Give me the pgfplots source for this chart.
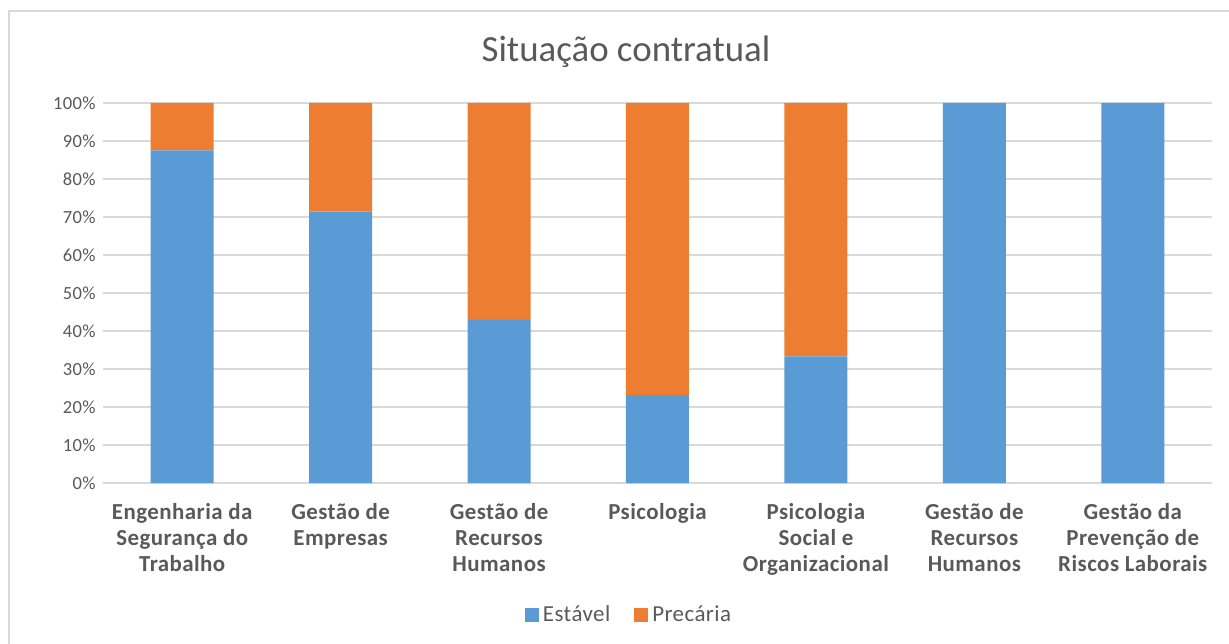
\documentclass[border=0pt]{standalone}
\usepackage{pgfplots}
\pgfplotsset{compat=1.18}
\usepackage{fontspec}
\setmainfont{Carlito}
\definecolor{estavel}{HTML}{5B9BD5}
\definecolor{precaria}{HTML}{ED7D31}
\definecolor{txt}{HTML}{595959}
\definecolor{gridc}{HTML}{D9D9D9}

\begin{document}
\begin{tikzpicture}
\useasboundingbox (-51.5bp,-80.5bp) rectangle (563bp,241.5bp);
\draw[gridc, line width=1bp] (-47bp,-100bp) -- (-47bp,236bp) -- (600bp,236bp);
\begin{axis}[
    at={(0,0)}, anchor=south west,
    scale only axis,
    width=554.5bp, height=190bp,
    ybar stacked,
    bar width=31.5bp,
    xmin=-0.5, xmax=6.5,
    ymin=0, ymax=100,
    xtick=data,
    xticklabels={
        {Engenharia da\\Segurança do\\Trabalho},
        {Gestão de\\Empresas},
        {Gestão de\\Recursos\\Humanos},
        {Psicologia},
        {Psicologia\\Social e\\Organizacional},
        {Gestão de\\Recursos\\Humanos},
        {Gestão da\\Prevenção de\\Riscos Laborais}},
    ytick={0,10,...,100},
    yticklabel={\pgfmathprintnumber{\tick}\%},
    /pgf/number format/assume math mode=true,
    ymajorgrids,
    major grid style={draw=gridc, line width=0.8bp},
    axis line style={draw=none},
    tick style={draw=none},
    yticklabel style={font=\fontsize{9.3}{11}\selectfont\addfontfeatures{LetterSpace=2}, text=txt, inner sep=0pt, xshift=-3.5bp},
    xticklabel style={font=\fontsize{11.5}{13}\selectfont\bfseries\addfontfeatures{LetterSpace=2}, text=txt, align=center, inner sep=0pt, yshift=-10bp, anchor=north},
    legend style={at={(263.5bp,-66bp)}, anchor=center, draw=none, fill=none,
        legend columns=2, font=\fontsize{11.5}{13}\selectfont\addfontfeatures{LetterSpace=2}, text=txt,
        /tikz/every even column/.append style={column sep=10bp}},
    legend image code/.code={\fill[#1] (0bp,-3.5bp) rectangle (7bp,3.5bp);},
]
\addplot[fill=estavel, draw=none] coordinates {(0,87.5) (1,71.4) (2,42.9) (3,23.1) (4,33.3) (5,100) (6,100)};
\addplot[fill=precaria, draw=none] coordinates {(0,12.5) (1,28.6) (2,57.1) (3,76.9) (4,66.7) (5,0) (6,0)};
\legend{Estável, Precária}
\end{axis}
\node[text=txt, font=\fontsize{18.5}{22}\selectfont] at (261.5bp,215.5bp) {Situação contratual};
\end{tikzpicture}
\end{document}
